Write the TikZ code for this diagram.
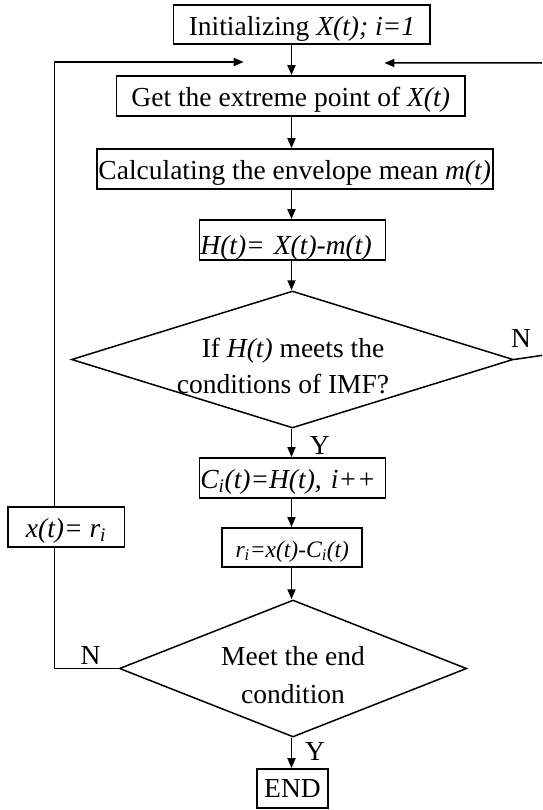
\documentclass[tikz,border=0pt]{standalone}
\usepackage{fontspec}
\setmainfont{Liberation Serif}
\usetikzlibrary{shapes.geometric,arrows.meta}
\begin{document}
\begin{tikzpicture}[x=1pt,y=-1pt,
  every node/.style={font=\fontsize{27.5}{32}\selectfont},
  stepbox/.style={draw,line width=1.8pt,rectangle,inner sep=0pt,text height=#1,text depth=40pt-#1},
  lbox/.style={align=left,inner xsep=1pt},
  dec/.style={draw,line width=1.5pt,diamond,inner sep=0pt},
  arr/.style={line width=1.8pt,-{Triangle[length=10pt,width=8pt]}},
  fb/.style={line width=1.5pt},
  fbarr/.style={line width=1.5pt,-{Triangle[length=10pt,width=8pt]}},
  lab/.style={inner sep=0pt}]
\clip (0,0) rectangle (542,810);
\fill[white] (0,0) rectangle (542,810);
\coordinate (ax) at (291.5,0);
% boxes
\node[stepbox=31pt,minimum width=256.8pt,minimum height=39pt,text depth=8pt] (init) at (301.9,24.5) {Initializing \textit{X(t); i=1}};
\node[stepbox=31pt,minimum width=348.5pt,minimum height=40pt] (get) at (290.7,96) {Get the extreme point of \textit{X(t)}};
\node[stepbox=30.5pt,minimum width=395.8pt,minimum height=40pt] (calc) at (294.7,169) {Calculating the envelope mean \textit{m(t)}};
\node[stepbox=34pt,lbox,minimum width=186pt,minimum height=40pt,text width=184pt] (h) at (292.4,240) {\textit{H(t)= X(t)-m(t)}};
\node[dec,minimum width=441.8pt,minimum height=137pt] (d1) at (292.4,359.5) {};
\node[lab,anchor=base] (d1a) at (293,357) {If \textit{H(t)} meets the};
\node[lab,anchor=base] (d1b) at (283,393) {conditions of IMF?};
\node[stepbox=30pt,lbox,minimum width=186pt,minimum height=40pt,text width=184pt] (ci) at (292.4,478) {\textit{C\textsubscript{i}(t)=H(t), i++}};
\node[stepbox=29pt,minimum width=140pt,minimum height=39pt,text depth=10pt,font=\fontsize{23.5}{28}\selectfont] (ri) at (292.3,547.5) {\textit{r\textsubscript{i}=x(t)-C\textsubscript{i}(t)}};
\node[stepbox=30pt,minimum width=116.8pt,minimum height=40pt] (xb) at (66,527) {\textit{x(t)= r\textsubscript{i}}};
\node[dec,minimum width=347.3pt,minimum height=137pt] (d2) at (293,668.5) {};
\node[lab,anchor=base] (d2a) at (293,665) {Meet the end};
\node[lab,anchor=base] (d2b) at (293,703) {condition};
\node[stepbox=28pt,minimum width=71pt,minimum height=39pt,text depth=11pt] (end) at (292.5,788.5) {END};
% labels
\node[lab] (n1) at (521,338) {N};
\node[lab] (y1) at (319.7,445) {Y};
\node[lab] (n2) at (90.6,655) {N};
\node[lab] (y2) at (315,751) {Y};
% main arrows
\draw[arr] (init.south -| ax) -- (get.north -| ax);
\draw[arr] (get.south -| ax) -- (calc.north -| ax);
\draw[arr] (calc.south -| ax) -- (h.north -| ax);
\draw[arr] (h.south -| ax) -- (d1.north -| ax);
\draw[arr] (d1.south -| ax) -- (ci.north -| ax);
\draw[arr] (ci.south -| ax) -- (ri.north -| ax);
\draw[arr] (ri.south -| ax) -- (d2.north -| ax);
\draw[arr] (d2.south -| ax) -- (end.north -| ax);
% left feedback
\coordinate (lx) at (54.3,62);
\coordinate (ltip) at (243.7,62);
\draw[fb] (d2.west) -- (d2.west -| lx) -- (xb.south -| lx);
\draw[fbarr] (xb.north -| lx) -- (lx) -- (ltip);
% right feedback
\coordinate (rc1) at (548,354.5);
\coordinate (rc2) at (548,63);
\coordinate (rtip) at (384.4,63);
\draw[fbarr] (d1.east) -- (rc1) -- (rc2) -- (rtip);
\end{tikzpicture}
\end{document}
